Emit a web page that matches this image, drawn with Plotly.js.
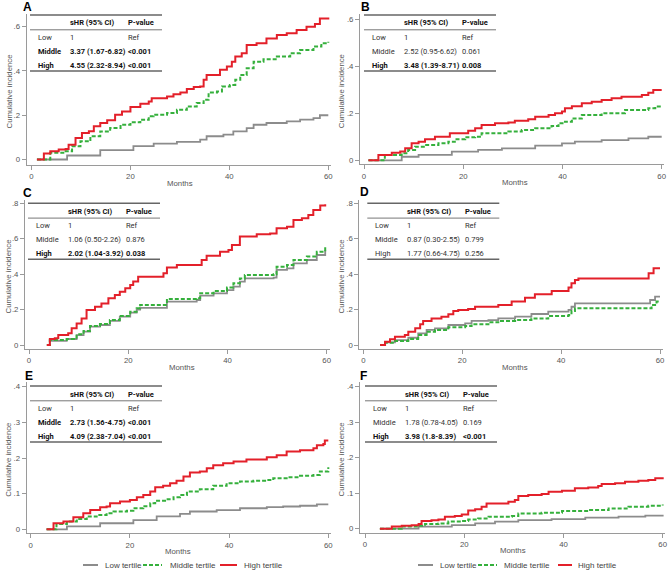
<!DOCTYPE html>
<html><head><meta charset="utf-8">
<script src="https://cdn.plot.ly/plotly-3.0.1.min.js"></script>
<style>html,body{margin:0;padding:0;background:#fff}#chart{width:669px;height:573px}</style>
</head><body><div id="chart"></div>
<script>
// ---------- data ----------
const seriesNames = ['Low tertile', 'Middle tertile', 'High tertile'];
const seriesColors = ['#8c8c8c', '#35b03c', '#e3202a'];
const panelLetters = ['A', 'B', 'C', 'D', 'E', 'F'];
const rowLabels = ['Low', 'Middle', 'High'];
const xTicks = [0, 20, 40, 60];
const yTicksAB = [0, 0.2, 0.4, 0.6];
const yTicksCD = [0, 0.2, 0.4, 0.6, 0.8];
const yTicksEF = [0, 0.1, 0.2, 0.3, 0.4];

// Panel A
const A_low_x = [1.1, 7.2, 13.9, 20.6, 24.7, 29.4, 34.1, 35.4, 38.8, 40.8, 43.5, 44.9, 47.5, 51.6, 54.3, 57, 58.3, 60];
const A_low_y = [0, .018, .042, .06, .072, .08, .09, .105, .112, .127, .142, .157, .165, .172, .18, .187, .2, .2];
const A_mid_x = [1.1, 3.8, 6.9, 8.2, 9.9, 11.9, 13.9, 15.9, 18, 20, 22, 23.7, 24.7, 27.4, 29.4, 31.4, 33.4, 34.8, 35.8, 37.5, 38.5, 40.1, 41.2, 42.2, 43.5, 44.9, 46.9, 49.6, 52.3, 54.3, 57, 58.6, 60];
const A_mid_y = [0, .03, .037, .06, .082, .105, .127, .142, .157, .168, .18, .195, .202, .21, .225, .24, .255, .27, .303, .307, .33, .337, .36, .382, .412, .442, .453, .465, .48, .495, .51, .525, .532];
const A_high_x = [1.1, 2.5, 3.8, 5.5, 6.9, 7.5, 8.9, 10.2, 11.6, 12.6, 13.9, 15.3, 16.9, 18.3, 20, 22, 23.7, 24.3, 26, 27.4, 28.7, 30.1, 31.4, 32.8, 34.1, 34.8, 35.4, 37.5, 38.1, 39.5, 40.5, 41.2, 42.5, 43.5, 45.5, 47.5, 49.6, 51.6, 53.6, 55.6, 57.3, 58.3, 60];
const A_high_y = [0, .027, .037, .045, .048, .067, .097, .12, .128, .15, .165, .177, .202, .217, .237, .252, .262, .277, .277, .285, .295, .303, .318, .327, .33, .36, .382, .382, .405, .42, .442, .465, .48, .517, .525, .547, .562, .57, .585, .6, .612, .637, .642];
const A_shr = ['1', '3.37 (1.67-6.82)', '4.55 (2.32-8.94)'];
const A_p = ['Ref', '<0.001', '<0.001'];
const A_bold = [false, true, true];

// Panel B
const B_low_x = [0.9, 7.6, 11, 17.7, 23, 27.8, 34.5, 39.9, 42.5, 47.9, 53.3, 57.3, 60];
const B_low_y = [0, .015, .023, .037, .044, .051, .062, .072, .079, .086, .093, .1, .1];
const B_mid_x = [0.9, 4.2, 7.6, 8.9, 10.3, 12.3, 15, 17, 18.3, 20.4, 22.4, 23.7, 26.4, 29.1, 31.8, 34.5, 37.8, 39.2, 40.5, 41.9, 43.9, 46.6, 47.9, 51.3, 52.6, 56, 57.3, 58.7, 60];
const B_mid_y = [0, .023, .03, .044, .058, .065, .072, .079, .089, .098, .1, .115, .115, .122, .129, .136, .146, .157, .164, .178, .192, .192, .2, .2, .214, .214, .221, .228, .228];
const B_high_x = [0.9, 2.9, 5.6, 7.3, 8.3, 9.6, 11, 12.3, 14.3, 16.3, 17.3, 19.7, 21, 22.4, 23.7, 26.4, 29.1, 30.4, 33.1, 34.5, 37.2, 38.5, 39.9, 40.5, 41.9, 43.9, 45.9, 47.9, 49.9, 51.9, 56, 57.3, 58.3, 60];
const B_high_y = [0, .023, .032, .037, .051, .072, .079, .089, .1, .1, .115, .115, .126, .136, .15, .157, .16, .168, .174, .185, .192, .2, .207, .221, .23, .242, .249, .256, .263, .27, .277, .287, .298, .298];
const B_shr = ['1', '2.52 (0.95-6.62)', '3.48 (1.39-8.71)'];
const B_p = ['Ref', '0.061', '0.008'];
const B_bold = [false, false, true];

// Panel C
const C_low_x = [3.6, 4.2, 7.6, 9.6, 11, 12.3, 14.3, 16.3, 18.3, 20.4, 21.7, 22.4, 26.4, 27.8, 33.8, 34.5, 37.2, 39.9, 41.2, 42.5, 43.5, 49.3, 49.9, 52, 53.3, 56, 58, 59.7];
const C_low_y = [0, .023, .034, .056, .075, .104, .113, .136, .16, .183, .2, .21, .21, .245, .254, .279, .292, .31, .33, .358, .376, .38, .424, .433, .461, .48, .508, .536];
const C_mid_x = [3.6, 4.2, 7.6, 9.6, 11, 12.3, 14.3, 16.3, 18.3, 20.4, 21.7, 22.4, 26.4, 27.8, 33.8, 34.5, 37.2, 39.9, 41.2, 42.5, 43.5, 49.3, 49.9, 52, 53.3, 56, 58, 59.7];
const C_mid_y = [0, .028, .034, .06, .079, .107, .118, .141, .164, .188, .207, .226, .226, .26, .264, .292, .305, .324, .348, .376, .395, .4, .442, .452, .48, .5, .527, .555];
const C_high_x = [3.6, 4.2, 5.2, 5.9, 7.9, 8.6, 9.6, 10.6, 11.6, 13.3, 14.6, 16, 17.3, 18.3, 19.4, 20.4, 21, 22, 25.7, 27.1, 27.8, 29.8, 34.5, 34.8, 35.8, 37.8, 38.5, 40.2, 40.9, 42.5, 45.9, 48.6, 49.9, 52, 53.3, 55, 56.3, 57.3, 58.7, 59.7];
const C_high_y = [0, .034, .038, .056, .066, .094, .122, .15, .198, .216, .235, .264, .282, .301, .32, .339, .358, .386, .386, .405, .437, .452, .452, .48, .504, .504, .527, .536, .565, .612, .625, .63, .659, .668, .706, .715, .734, .762, .787, .794];
const C_shr = ['1', '1.06 (0.50-2.26)', '2.02 (1.04-3.92)'];
const C_p = ['Ref', '0.876', '0.038'];
const C_bold = [false, false, true];

// Panel D
const D_low_x = [3.4, 4.4, 6.4, 9.1, 11.1, 12.8, 14.5, 17.2, 20.6, 21.9, 25.3, 27.3, 30.7, 34, 37.4, 41.5, 42.1, 42.8, 57.7, 58, 59, 60];
const D_low_y = [0, .015, .028, .041, .066, .085, .094, .113, .122, .136, .141, .15, .16, .175, .188, .198, .216, .235, .235, .254, .273, .273];
const D_mid_x = [3.4, 4.4, 6.4, 9.1, 11.1, 12.8, 14.5, 17.2, 20.6, 21.9, 25.3, 27.3, 30.7, 34, 37.4, 41.5, 42.1, 42.8, 57.7, 58.3, 59.3, 60];
const D_mid_y = [0, .013, .023, .034, .056, .075, .085, .1, .107, .117, .128, .136, .141, .15, .164, .169, .192, .207, .207, .226, .245, .245];
const D_high_x = [3.4, 4.4, 5.4, 6.4, 8.4, 9.1, 10.5, 11.5, 12.1, 13.8, 15.8, 17.2, 18.2, 19.2, 21.2, 22.6, 27.3, 30, 32.7, 34.7, 38.1, 41.5, 42.1, 42.8, 43.5, 57, 57.7, 58.7, 60];
const D_high_y = [0, .019, .032, .047, .056, .075, .094, .117, .136, .15, .16, .173, .192, .198, .203, .216, .226, .245, .267, .286, .305, .324, .348, .367, .376, .376, .405, .433, .433];
const D_shr = ['1', '0.87 (0.30-2.55)', '1.77 (0.66-4.75)'];
const D_p = ['Ref', '0.799', '0.256'];
const D_bold = [false, false, false];

// Panel E
const E_low_x = [3.2, 7.3, 14, 20.7, 25.4, 30.1, 32.1, 37.5, 42.2, 47.6, 50.9, 54.3, 57.7, 60];
const E_low_y = [0, .008, .017, .026, .036, .043, .05, .054, .059, .062, .064, .066, .07, .07];
const E_mid_x = [3.2, 5.2, 7.3, 9.3, 11.3, 13.3, 15.3, 16.7, 19.4, 20.7, 22.7, 24.1, 25.1, 27.4, 28.8, 30.1, 31.5, 34.1, 36.8, 39.5, 42.2, 44.9, 47.6, 48.9, 51.6, 54.3, 57, 58.3, 60];
const E_mid_y = [0, .015, .022, .029, .036, .04, .045, .05, .052, .059, .065, .073, .08, .084, .09, .096, .106, .112, .122, .129, .134, .136, .138, .143, .146, .15, .152, .162, .174];
const E_high_x = [3.2, 4.6, 6.6, 8.6, 10.6, 12, 14, 15.3, 16, 18, 20, 21.4, 22.7, 24.1, 25.1, 26.7, 28.1, 29.4, 30.8, 32.1, 34.1, 35.5, 36.8, 38.8, 40.9, 43.5, 46.2, 47.6, 49.6, 51.6, 54.3, 57, 57.7, 59, 59.3, 60];
const E_high_y = [0, .017, .022, .034, .045, .054, .062, .064, .073, .078, .082, .09, .096, .106, .118, .122, .129, .136, .148, .159, .162, .171, .18, .185, .19, .196, .196, .202, .208, .218, .222, .227, .236, .239, .249, .249];
const E_shr = ['1', '2.73 (1.56-4.75)', '4.09 (2.38-7.04)'];
const E_p = ['Ref', '<0.001', '<0.001'];
const E_bold = [false, true, true];

// Panel F
const F_low_x = [3, 10.8, 17.5, 22.2, 26.2, 30.9, 37.6, 44.4, 51.1, 56.5, 60];
const F_low_y = [0, .006, .01, .015, .02, .024, .027, .031, .034, .037, .039];
const F_mid_x = [3, 7.4, 10.8, 12.1, 14.8, 16.8, 19.5, 20.8, 22.8, 24.9, 29.6, 30.9, 35.6, 39.7, 45, 49.1, 53.1, 57.1, 60];
const F_mid_y = [0, .006, .008, .013, .015, .02, .022, .026, .029, .034, .036, .043, .045, .05, .053, .057, .062, .065, .068];
const F_high_x = [3, 5.4, 7.4, 9.4, 10.8, 11.4, 13.4, 14.8, 16.1, 18.1, 19.5, 20.8, 22.2, 23.5, 24.5, 27.6, 28.9, 30.2, 30.9, 32.9, 35.6, 37, 39.7, 42.3, 45, 47, 47.7, 50.4, 52.4, 55.1, 57.1, 58.5, 60];
const F_high_y = [0, .006, .008, .01, .013, .022, .024, .026, .034, .036, .04, .051, .055, .062, .071, .071, .076, .081, .092, .095, .098, .104, .107, .114, .116, .12, .126, .128, .132, .135, .137, .142, .145];
const F_shr = ['1', '1.78 (0.78-4.05)', '3.98 (1.8-8.39)'];
const F_p = ['Ref', '0.169', '<0.001'];
const F_bold = [false, false, true];

// ---------- layout geometry (pixels) ----------
const W = 669, H = 573;
const panels = [
  {L:26.7, R:331, T:14,  B:165, x0:31.5, x60:328.3, y0:159.5, yr:26.7, yv:0.6, ticks:yTicksAB, tblL:30,  tblT:15,  data:[[A_low_x,A_low_y],[A_mid_x,A_mid_y],[A_high_x,A_high_y]], shr:A_shr, p:A_p, bold:A_bold},
  {L:360,  R:664, T:14,  B:164.3, x0:364, x60:661.7, y0:160.3, yr:19, yv:0.6, ticks:yTicksAB, tblL:364, tblT:15,  data:[[B_low_x,B_low_y],[B_mid_x,B_mid_y],[B_high_x,B_high_y]], shr:B_shr, p:B_p, bold:B_bold},
  {L:25,   R:330, T:200, B:349, x0:29, x60:326.7, y0:345, yr:203.3, yv:0.8, ticks:yTicksCD, tblL:28,  tblT:203.3, data:[[C_low_x,C_low_y],[C_mid_x,C_mid_y],[C_high_x,C_high_y]], shr:C_shr, p:C_p, bold:C_bold},
  {L:359.3,R:663, T:200, B:349, x0:363.3, x60:660, y0:345, yr:203.3, yv:0.8, ticks:yTicksCD, tblL:367.3, tblT:203.3, data:[[D_low_x,D_low_y],[D_mid_x,D_mid_y],[D_high_x,D_high_y]], shr:D_shr, p:D_p, bold:D_bold},
  {L:26.7, R:331, T:382, B:533.3, x0:30.7, x60:328.3, y0:529.3, yr:386.7, yv:0.4, ticks:yTicksEF, tblL:30, tblT:386, data:[[E_low_x,E_low_y],[E_mid_x,E_mid_y],[E_high_x,E_high_y]], shr:E_shr, p:E_p, bold:E_bold},
  {L:360,  R:665, T:382, B:533, x0:365, x60:662.7, y0:528.7, yr:386.7, yv:0.4, ticks:yTicksEF, tblL:365, tblT:386, data:[[F_low_x,F_low_y],[F_mid_x,F_mid_y],[F_high_x,F_high_y]], shr:F_shr, p:F_p, bold:F_bold}
];
const letterPos = [[27.5,7],[365.5,7],[27.5,192.5],[364,192],[28.5,376],[363.5,376]];
const monthsPos = [[180,183],[515,182],[181.7,367.5],[515,367.5],[178,551],[513,550.5]];
const ytitleX = [9, 341, 8, 341, 9, 341];

const px = v => v / W;
const py = v => 1 - v / H;

const baseFam = '"Liberation Sans", Arial, sans-serif';
const axisFont = {family: baseFam, size: 7.8, color: '#555'};
const tblFontFam = 'Roboto, "Liberation Sans", sans-serif';

const traces = [];
const layout = {
  width: W, height: H,
  margin: {l:0, r:0, t:0, b:0},
  paper_bgcolor: '#fff', plot_bgcolor: '#fff',
  showlegend: false,
  shapes: [], annotations: []
};

panels.forEach((pn, i) => {
  const n = i === 0 ? '' : String(i + 1);
  const sx = (pn.x60 - pn.x0) / 60;
  const sy = (pn.y0 - pn.yr) / pn.yv;
  layout['xaxis' + n] = {
    domain: [px(pn.L), px(pn.R)],
    range: [(pn.L - pn.x0) / sx, (pn.R - pn.x0) / sx],
    anchor: 'y' + n,
    tickvals: xTicks, ticktext: xTicks.map(String),
    ticks: 'outside', ticklen: 4, tickwidth: 1, tickcolor: '#9a9a9a',
    showline: true, linecolor: '#9a9a9a', linewidth: 1,
    showgrid: false, zeroline: false,
    tickfont: axisFont, fixedrange: true
  };
  layout['yaxis' + n] = {
    domain: [py(pn.B), py(pn.T)],
    range: [(pn.y0 - pn.B) / sy, (pn.y0 - pn.T) / sy],
    anchor: 'x' + n,
    tickvals: pn.ticks, ticktext: pn.ticks.map(v => v === 0 ? '0' : String(v).replace(/^0/, '')),
    ticks: 'outside', ticklen: 4, tickwidth: 1, tickcolor: '#9a9a9a',
    showline: true, linecolor: '#9a9a9a', linewidth: 1,
    showgrid: false, zeroline: false,
    tickfont: axisFont, fixedrange: true
  };
  pn.data.forEach((d, k) => {
    traces.push({
      type: 'scatter', mode: 'lines', x: d[0], y: d[1],
      xaxis: 'x' + n, yaxis: 'y' + n, name: seriesNames[k],
      line: {shape: 'hv', color: seriesColors[k], width: k === 0 ? 1.8 : 2, dash: k === 1 ? '4px,2px' : 'solid'},
      hoverinfo: 'skip'
    });
  });
  layout.annotations.push({xref:'paper', yref:'paper', x:px(letterPos[i][0]), y:py(letterPos[i][1]), text:'<b>'+panelLetters[i]+'</b>', showarrow:false, xanchor:'center', yanchor:'middle', font:{family: baseFam, size:12, color:'#000'}});
  layout.annotations.push({xref:'paper', yref:'paper', x:px(monthsPos[i][0]), y:py(monthsPos[i][1]), text:'Months', showarrow:false, xanchor:'center', yanchor:'middle', font:{family: baseFam, size:7.8, color:'#555'}});
  layout.annotations.push({xref:'paper', yref:'paper', x:px(ytitleX[i]), y:py((pn.T + pn.B) / 2 + 2), text:'Cumulative incidence', textangle:-90, showarrow:false, xanchor:'center', yanchor:'middle', font:{family: baseFam, size:7.8, color:'#555'}});
  const tL = pn.tblL, tT = pn.tblT, tW = 132;
  layout.shapes.push({type:'line', xref:'paper', yref:'paper', x0:px(tL), x1:px(tL+tW), y0:py(tT), y1:py(tT), line:{color:'#666', width:1.6}});
  layout.shapes.push({type:'line', xref:'paper', yref:'paper', x0:px(tL), x1:px(tL+tW), y0:py(tT+14.8), y1:py(tT+14.8), line:{color:'#777', width:1}});
  layout.shapes.push({type:'line', xref:'paper', yref:'paper', x0:px(tL), x1:px(tL+tW), y0:py(tT+56), y1:py(tT+56), line:{color:'#666', width:1.6}});
  const c1 = tL + 5.5, c2 = tL + 38, c3 = tL + 96;
  const tf = (b) => ({family: tblFontFam, size: 7.5, color: b ? '#111' : '#333'});
  const cell = (x, y, t, b) => layout.annotations.push({xref:'paper', yref:'paper', x:px(x), y:py(y), text: b ? '<b>'+t+'</b>' : t, showarrow:false, xanchor:'left', yanchor:'middle', font: tf(b)});
  cell(c2, tT + 8, 'sHR (95% CI)', true);
  cell(c3, tT + 8, 'P-value', true);
  const rowOff = [22.5, 36.5, 50.2];
  rowLabels.forEach((r, k) => {
    const b = pn.bold[k];
    cell(c1, tT + rowOff[k], r, b);
    cell(c2, tT + rowOff[k], pn.shr[k], b);
    cell(c3, tT + rowOff[k], pn.p[k], b);
  });
});

const legendSets = [
  {y:565, sw:[[83,98],[143,162],[220,237]], tx:[103,168,242]},
  {y:565, sw:[[418,433],[478,497],[558,572]], tx:[438,502,576]}
];
legendSets.forEach(ls => {
  seriesNames.forEach((nm, k) => {
    layout.shapes.push({type:'line', xref:'paper', yref:'paper', x0:px(ls.sw[k][0]), x1:px(ls.sw[k][1]), y0:py(ls.y), y1:py(ls.y), line:{color:seriesColors[k], width:2, dash: k === 1 ? '4px,2px' : 'solid'}});
    layout.annotations.push({xref:'paper', yref:'paper', x:px(ls.tx[k]), y:py(ls.y), text:nm, showarrow:false, xanchor:'left', yanchor:'middle', font:{family: baseFam, size:8, color:'#444'}});
  });
});

Plotly.newPlot('chart', traces, layout, {staticPlot: true, displayModeBar: false});
</script></body></html>
